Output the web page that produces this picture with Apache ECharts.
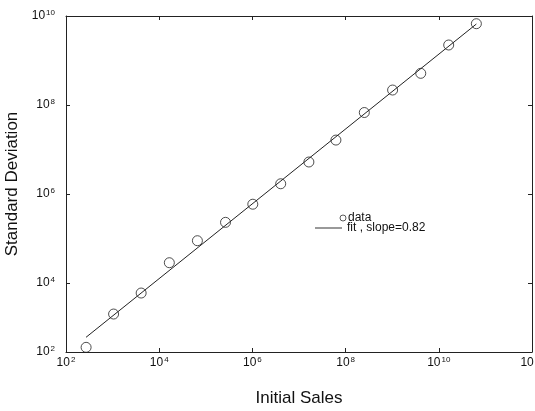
<!DOCTYPE html>
<html>
<head>
<meta charset="utf-8">
<script src="https://cdn.jsdelivr.net/npm/echarts@6/dist/echarts.min.js"></script>
<style>
html,body{margin:0;padding:0;background:#fff;}
#chart{width:535px;height:411px;}
</style>
</head>
<body>
<div id="chart"></div>
<script>
// Data
const salesX = [270, 1050, 4100, 16500, 66000, 265000, 1.02e6, 4.05e6, 1.63e7, 6.2e7, 2.52e8, 1.02e9, 4.1e9, 1.63e10, 6.4e10];
const stdY   = [359, 2010, 5960, 28600, 89300, 231000, 590000, 1.70e6, 5.24e6, 1.63e7, 6.78e7, 2.17e8, 5.15e8, 2.23e9, 6.71e9];
const fitX = [269, 6.4e10];
const fitY = [603, 6.6e9];
const xTickExps = [2, 4, 6, 8, 10, 12];
const yTickExps = [2, 4, 6, 8, 10];
const legendNames = ['data', 'fit , slope=0.82'];

const FONT = '"Liberation Sans", Arial, Helvetica, sans-serif';
const rich = {
  b: {fontSize: 12, fontFamily: FONT, color: '#111', lineHeight: 14},
  s: {fontSize: 8, fontFamily: FONT, color: '#111', verticalAlign: 'top', lineHeight: 8, padding: [0, 0, 0, 1]}
};
function fmt(exps) {
  return function (v, i) {
    const e = exps[i];
    if (e === undefined) return '';
    return '{b|10}{s|' + e + '}';
  };
}

const chart = echarts.init(document.getElementById('chart'), null, {renderer: 'canvas'});
const axisLine = {show: true, lineStyle: {color: '#222', width: 1}};
chart.setOption({
  animation: false,
  backgroundColor: '#fff',
  grid: {left: 66, right: 3, top: 16, bottom: 59, containLabel: false, outerBoundsMode: 'none'},
  xAxis: [{
    type: 'log', logBase: 100, min: 100, max: 1e12,
    position: 'bottom',
    axisLine: axisLine,
    axisTick: {show: true, inside: true, length: 4, lineStyle: {color: '#222'}},
    splitLine: {show: false},
    axisLabel: {formatter: fmt(xTickExps), rich: rich, margin: 4, showMinLabel: true, showMaxLabel: true},
    name: 'Initial Sales', nameLocation: 'middle', nameGap: 38,
    nameTextStyle: {fontSize: 17, fontFamily: FONT, color: '#111'}
  }, {
    type: 'log', logBase: 100, min: 100, max: 1e12,
    position: 'top',
    axisLine: axisLine,
    axisTick: {show: true, inside: true, length: 4, lineStyle: {color: '#222'}},
    splitLine: {show: false},
    axisLabel: {show: false}
  }],
  yAxis: [{
    type: 'log', logBase: 100, min: 282, max: 1e10,
    position: 'left',
    axisLine: axisLine,
    axisTick: {show: true, inside: true, length: 4, lineStyle: {color: '#222'}},
    splitLine: {show: false},
    axisLabel: {formatter: fmt(yTickExps), rich: rich, margin: 11, showMinLabel: true, showMaxLabel: true},
    name: 'Standard Deviation', nameLocation: 'middle', nameGap: 41,
    nameTextStyle: {fontSize: 17, fontFamily: FONT, color: '#111'}
  }, {
    type: 'log', logBase: 100, min: 282, max: 1e10,
    position: 'right',
    axisLine: axisLine,
    axisTick: {show: true, inside: true, length: 4, lineStyle: {color: '#222'}},
    splitLine: {show: false},
    axisLabel: {show: false}
  }],
  legend: [{
    data: [{name: legendNames[0], icon: 'circle'}],
    left: 339.5, top: 212, padding: 0, itemWidth: 6, itemHeight: 6,
    textStyle: {fontSize: 12, fontFamily: FONT, color: '#111', padding: [0, 0, 0, -3]},
    itemStyle: {color: 'transparent', borderColor: '#333', borderWidth: 1}
  }, {
    data: [{name: legendNames[1], icon: 'rect'}],
    left: 315, top: 222, padding: 0, itemWidth: 27, itemHeight: 1,
    itemStyle: {color: '#333', borderWidth: 0},
    lineStyle: {width: 0},
    textStyle: {fontSize: 12, fontFamily: FONT, color: '#111'}
  }],
  series: [{
    name: legendNames[0],
    type: 'scatter',
    symbol: 'circle', symbolSize: 10,
    itemStyle: {color: 'rgba(255,255,255,0)', borderColor: '#222', borderWidth: 1},
    data: salesX.map((x, i) => [x, stdY[i]]),
    z: 2
  }, {
    name: legendNames[1],
    type: 'line',
    symbol: 'none', showSymbol: false,
    lineStyle: {color: '#222', width: 1},
    itemStyle: {color: '#222'},
    data: fitX.map((x, i) => [x, fitY[i]]),
    z: 3
  }]
});
</script>
</body>
</html>
